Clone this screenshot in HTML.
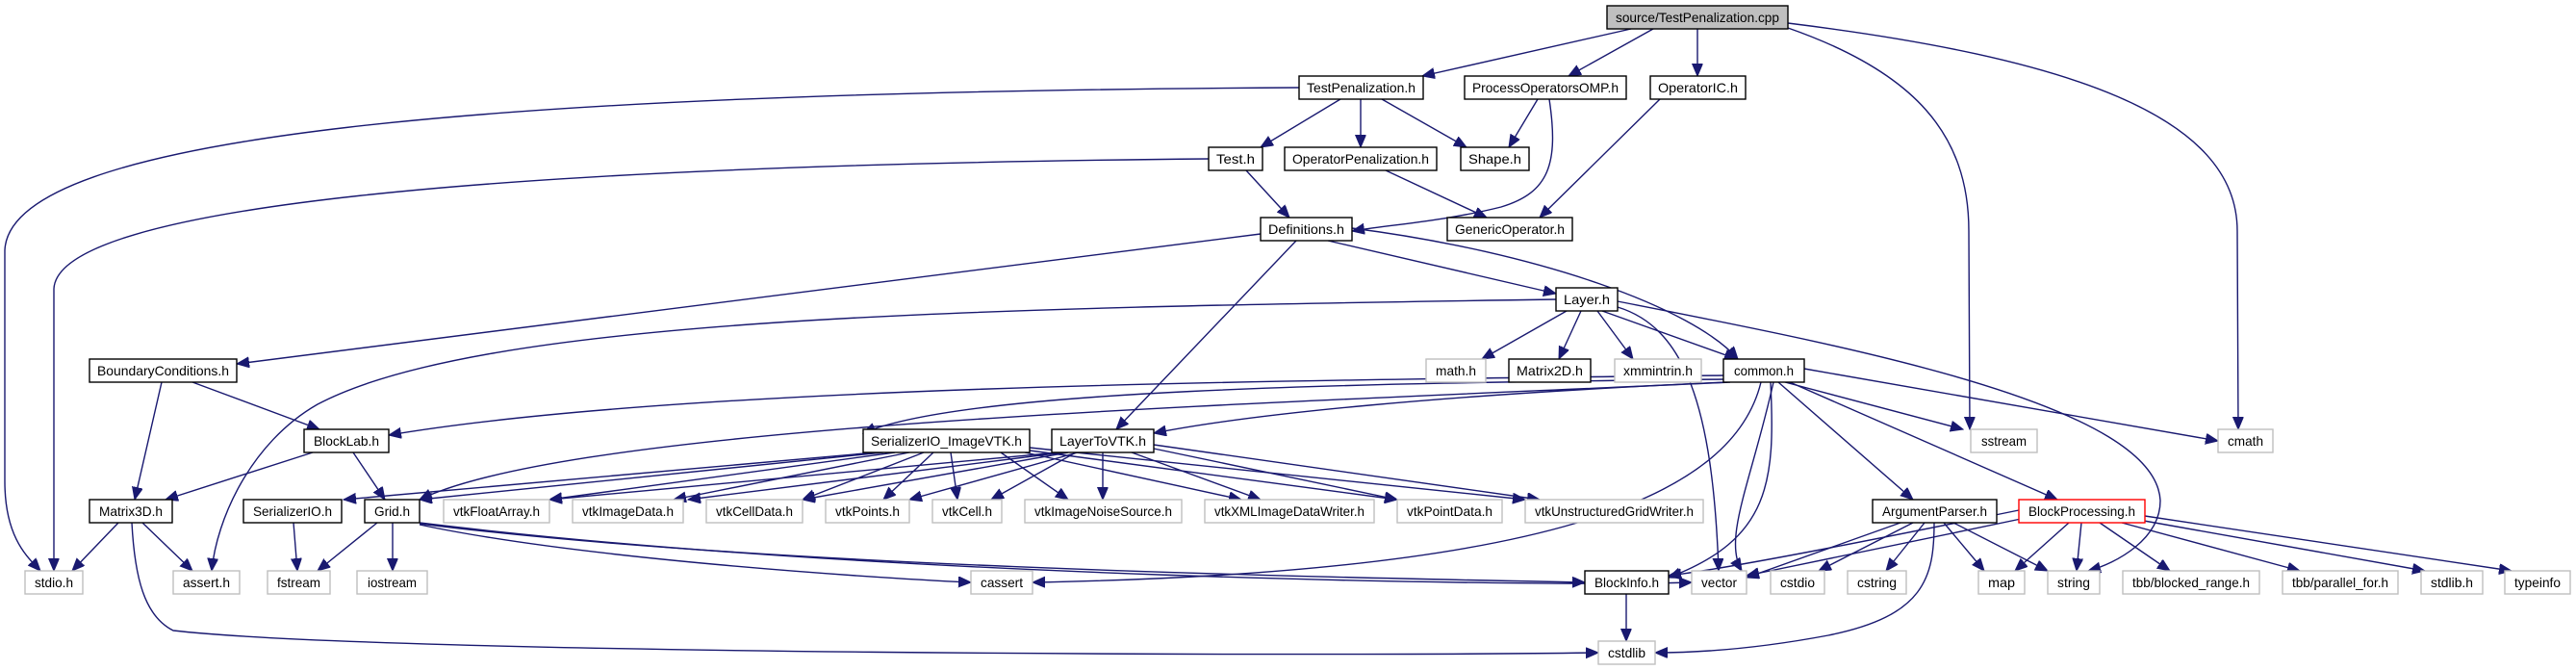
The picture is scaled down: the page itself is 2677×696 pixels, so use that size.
<!DOCTYPE html>
<html><head><meta charset="utf-8"><style>
html,body{margin:0;padding:0;background:#fff}
svg{display:block}
text{font-family:"Liberation Sans",sans-serif;font-size:14px;fill:#000}
.e{fill:none;stroke:#191970;stroke-width:1.4}
.n{fill:#fff;stroke:#000;stroke-width:1.4}
.g{fill:#fff;stroke:#bfbfbf;stroke-width:1.4}
</style></head><body>
<svg width="2677" height="696" viewBox="0 0 2677 696" xmlns="http://www.w3.org/2000/svg">
<defs><marker id="a" markerUnits="userSpaceOnUse" markerWidth="14" markerHeight="12" refX="13" refY="5.5" orient="auto"><path d="M0,0 L13,5.5 L0,11 z" fill="#191970" stroke="#191970"/></marker></defs>
<g class="e" marker-end="url(#a)">
<!-- cpp -->
<path d="M1695,30 L1478,79"/>
<path d="M1718,30 L1630,79"/>
<path d="M1764,30 L1764,79"/>
<path d="M1858,29 C1990,75 2046,140 2046,240 L2047,446"/>
<path d="M1858,24 C2150,60 2325,120 2325,240 L2326,446"/>
<!-- TestPenalization.h -->
<path d="M1350,91 C500,96 10,140 5,260 L5,500 C5,560 30,580 42,593"/>
<path d="M1393,103 L1310,153"/>
<path d="M1414,103 L1414,153"/>
<path d="M1436,103 L1524,153"/>
<!-- POMP -->
<path d="M1598,103 L1568,153"/>
<path d="M1610,103 C1620,170 1610,200 1560,215 C1500,230 1440,234 1405,240"/>
<!-- OIC -->
<path d="M1725,103 L1600,226"/>
<!-- Test.h -->
<path d="M1256,165 C500,172 60,215 56,300 L56,593"/>
<path d="M1295,177 L1340,226"/>
<!-- OperatorPenalization -->
<path d="M1440,177 L1545,226"/>
<!-- Definitions -->
<path d="M1310,243 L246,378"/>
<path d="M1380,250 L1617,305"/>
<path d="M1347,250 L1160,446"/>
<path d="M1405,237 C1600,262 1760,320 1806,373"/>
<!-- Layer -->
<path d="M1617,311 C1000,320 500,330 330,420 C260,460 225,540 220,593"/>
<path d="M1628,323 L1540,373"/>
<path d="M1643,323 L1620,373"/>
<path d="M1660,323 L1697,373"/>
<path d="M1665,323 L1805,373"/>
<path d="M1681,319 C1750,340 1780,420 1786,593"/>
<path d="M1681,313 C1920,360 2240,420 2245,520 C2245,560 2200,585 2170,593"/>
<!-- common -->
<path d="M1791,390 C1300,395 700,402 404,452"/>
<path d="M1791,394 C1400,398 1000,405 897,450"/>
<path d="M1795,397 C1500,410 1300,430 1199,450"/>
<path d="M1798,397 C1300,420 600,440 436,519"/>
<path d="M1855,397 L2040,446"/>
<path d="M1875,383 L2305,458"/>
<path d="M1830,397 C1800,520 1600,595 1073,605"/>
<path d="M1840,397 C1845,500 1840,560 1734,600"/>
<path d="M1843,397 C1820,500 1790,560 1810,593"/>
<path d="M1848,397 L1988,519"/>
<path d="M1860,397 L2138,519"/>
<!-- BoundaryConditions -->
<path d="M168,397 L140,519"/>
<path d="M200,397 L332,446"/>
<!-- BlockLab -->
<path d="M325,470 L172,519"/>
<path d="M367,470 L400,519"/>
<!-- Matrix3D -->
<path d="M123,543 L75,593"/>
<path d="M148,543 L200,593"/>
<path d="M137,543 C140,600 150,640 180,655 C400,680 1400,682 1661,678"/>
<!-- SerializerIO -->
<path d="M305,543 L309,593"/>
<!-- Grid -->
<path d="M392,543 L330,593"/>
<path d="M408,543 L408,593"/>
<path d="M436,545 C600,580 900,600 1009,605"/>
<path d="M436,544 C800,590 1400,600 1647,605"/>
<path d="M436,543 C900,600 1600,610 1758,605"/>
<!-- SIVTK -->
<path d="M910,470 L357,519"/>
<path d="M918,470 L436,519"/>
<path d="M930,470 L571,519"/>
<path d="M945,470 L700,519"/>
<path d="M960,470 L834,519"/>
<path d="M970,470 L918,519"/>
<path d="M988,470 L995,519"/>
<path d="M1040,470 L1110,519"/>
<path d="M1065,470 L1290,519"/>
<path d="M1070,468 L1452,519"/>
<path d="M1070,465 L1585,519"/>
<!-- L2VTK -->
<path d="M1100,470 L571,519"/>
<path d="M1105,470 L715,519"/>
<path d="M1110,470 L834,519"/>
<path d="M1120,470 L945,519"/>
<path d="M1118,470 L1030,519"/>
<path d="M1146,470 L1146,519"/>
<path d="M1176,470 L1310,519"/>
<path d="M1199,466 L1452,519"/>
<path d="M1199,462 L1600,519"/>
<!-- ArgumentParser -->
<path d="M1975,543 L1815,600"/>
<path d="M1988,543 L1890,593"/>
<path d="M2000,543 L1960,593"/>
<path d="M2020,543 L2062,593"/>
<path d="M2030,543 L2128,593"/>
<path d="M2010,543 C2010,600 2000,640 1900,660 C1820,675 1760,678 1720,678"/>
<!-- BlockProcessing -->
<path d="M2098,530 C1950,560 1800,590 1734,598"/>
<path d="M2105,538 C2000,560 1880,585 1815,598"/>
<path d="M2150,543 L2094,593"/>
<path d="M2163,543 L2158,593"/>
<path d="M2182,543 L2255,593"/>
<path d="M2205,543 L2390,593"/>
<path d="M2228,541 L2520,593"/>
<path d="M2229,536 L2610,593"/>
<!-- BlockInfo -->
<path d="M1690,617 L1690,666"/>
</g>
<g>
<rect x="1670" y="6" width="188" height="24" fill="#bfbfbf" stroke="#000" stroke-width="1.4"/><text x="1764" y="23" text-anchor="middle" textLength="170" lengthAdjust="spacingAndGlyphs">source/TestPenalization.cpp</text>
<rect class="n" x="1350" y="79" width="129" height="24"/><text x="1414.5" y="96" text-anchor="middle" textLength="113" lengthAdjust="spacingAndGlyphs">TestPenalization.h</text>
<rect class="n" x="1522" y="79" width="168" height="24"/><text x="1606" y="96" text-anchor="middle" textLength="152" lengthAdjust="spacingAndGlyphs">ProcessOperatorsOMP.h</text>
<rect class="n" x="1715" y="79" width="99" height="24"/><text x="1764.5" y="96" text-anchor="middle" textLength="83" lengthAdjust="spacingAndGlyphs">OperatorIC.h</text>
<rect class="n" x="1256" y="153" width="56" height="24"/><text x="1284" y="170" text-anchor="middle" textLength="40" lengthAdjust="spacingAndGlyphs">Test.h</text>
<rect class="n" x="1335" y="153" width="158" height="24"/><text x="1414" y="170" text-anchor="middle" textLength="142" lengthAdjust="spacingAndGlyphs">OperatorPenalization.h</text>
<rect class="n" x="1518" y="153" width="71" height="24"/><text x="1553.5" y="170" text-anchor="middle" textLength="55" lengthAdjust="spacingAndGlyphs">Shape.h</text>
<rect class="n" x="1310" y="226" width="95" height="24"/><text x="1357.5" y="243" text-anchor="middle" textLength="79" lengthAdjust="spacingAndGlyphs">Definitions.h</text>
<rect class="n" x="1504" y="226" width="130" height="24"/><text x="1569" y="243" text-anchor="middle" textLength="114" lengthAdjust="spacingAndGlyphs">GenericOperator.h</text>
<rect class="n" x="1617" y="299" width="64" height="24"/><text x="1649" y="316" text-anchor="middle" textLength="48" lengthAdjust="spacingAndGlyphs">Layer.h</text>
<rect class="n" x="93" y="373" width="153" height="24"/><text x="169.5" y="390" text-anchor="middle" textLength="137" lengthAdjust="spacingAndGlyphs">BoundaryConditions.h</text>
<rect class="g" x="1482" y="373" width="62" height="24"/><text x="1513" y="390" text-anchor="middle" textLength="42" lengthAdjust="spacingAndGlyphs">math.h</text>
<rect class="n" x="1568" y="373" width="85" height="24"/><text x="1610.5" y="390" text-anchor="middle" textLength="69" lengthAdjust="spacingAndGlyphs">Matrix2D.h</text>
<rect class="g" x="1678" y="373" width="90" height="24"/><text x="1723" y="390" text-anchor="middle" textLength="72" lengthAdjust="spacingAndGlyphs">xmmintrin.h</text>
<rect class="n" x="1791" y="373" width="84" height="24"/><text x="1833" y="390" text-anchor="middle" textLength="62" lengthAdjust="spacingAndGlyphs">common.h</text>
<rect class="n" x="316" y="446" width="88" height="24"/><text x="360" y="463" text-anchor="middle" textLength="68" lengthAdjust="spacingAndGlyphs">BlockLab.h</text>
<rect class="n" x="897" y="446" width="173" height="24"/><text x="983.5" y="463" text-anchor="middle" textLength="157" lengthAdjust="spacingAndGlyphs">SerializerIO_ImageVTK.h</text>
<rect class="n" x="1093" y="446" width="106" height="24"/><text x="1146" y="463" text-anchor="middle" textLength="90" lengthAdjust="spacingAndGlyphs">LayerToVTK.h</text>
<rect class="g" x="2048" y="446" width="69" height="24"/><text x="2082.5" y="463" text-anchor="middle" textLength="47" lengthAdjust="spacingAndGlyphs">sstream</text>
<rect class="g" x="2305" y="446" width="57" height="24"/><text x="2333.5" y="463" text-anchor="middle" textLength="37" lengthAdjust="spacingAndGlyphs">cmath</text>
<rect class="n" x="93" y="519" width="86" height="24"/><text x="136" y="536" text-anchor="middle" textLength="66" lengthAdjust="spacingAndGlyphs">Matrix3D.h</text>
<rect class="n" x="253" y="519" width="102" height="24"/><text x="304" y="536" text-anchor="middle" textLength="82" lengthAdjust="spacingAndGlyphs">SerializerIO.h</text>
<rect class="n" x="379" y="519" width="57" height="24"/><text x="407.5" y="536" text-anchor="middle" textLength="37" lengthAdjust="spacingAndGlyphs">Grid.h</text>
<rect class="g" x="461" y="519" width="110" height="24"/><text x="516" y="536" text-anchor="middle" textLength="90" lengthAdjust="spacingAndGlyphs">vtkFloatArray.h</text>
<rect class="g" x="595" y="519" width="115" height="24"/><text x="652.5" y="536" text-anchor="middle" textLength="95" lengthAdjust="spacingAndGlyphs">vtkImageData.h</text>
<rect class="g" x="734" y="519" width="100" height="24"/><text x="784" y="536" text-anchor="middle" textLength="80" lengthAdjust="spacingAndGlyphs">vtkCellData.h</text>
<rect class="g" x="858" y="519" width="87" height="24"/><text x="901.5" y="536" text-anchor="middle" textLength="67" lengthAdjust="spacingAndGlyphs">vtkPoints.h</text>
<rect class="g" x="969" y="519" width="72" height="24"/><text x="1005" y="536" text-anchor="middle" textLength="52" lengthAdjust="spacingAndGlyphs">vtkCell.h</text>
<rect class="g" x="1065" y="519" width="163" height="24"/><text x="1146.5" y="536" text-anchor="middle" textLength="143" lengthAdjust="spacingAndGlyphs">vtkImageNoiseSource.h</text>
<rect class="g" x="1252" y="519" width="176" height="24"/><text x="1340" y="536" text-anchor="middle" textLength="156" lengthAdjust="spacingAndGlyphs">vtkXMLImageDataWriter.h</text>
<rect class="g" x="1452" y="519" width="109" height="24"/><text x="1506.5" y="536" text-anchor="middle" textLength="89" lengthAdjust="spacingAndGlyphs">vtkPointData.h</text>
<rect class="g" x="1585" y="519" width="185" height="24"/><text x="1677.5" y="536" text-anchor="middle" textLength="165" lengthAdjust="spacingAndGlyphs">vtkUnstructuredGridWriter.h</text>
<rect class="n" x="1946" y="519" width="129" height="24"/><text x="2010.5" y="536" text-anchor="middle" textLength="109" lengthAdjust="spacingAndGlyphs">ArgumentParser.h</text>
<rect x="2098" y="519" width="131" height="24" fill="#fff" stroke="#ff0000" stroke-width="1.4"/><text x="2163.5" y="536" text-anchor="middle" textLength="111" lengthAdjust="spacingAndGlyphs">BlockProcessing.h</text>
<rect class="g" x="26" y="593" width="60" height="24"/><text x="56" y="610" text-anchor="middle" textLength="40" lengthAdjust="spacingAndGlyphs">stdio.h</text>
<rect class="g" x="180" y="593" width="69" height="24"/><text x="214.5" y="610" text-anchor="middle" textLength="49" lengthAdjust="spacingAndGlyphs">assert.h</text>
<rect class="g" x="278" y="593" width="65" height="24"/><text x="310.5" y="610" text-anchor="middle" textLength="45" lengthAdjust="spacingAndGlyphs">fstream</text>
<rect class="g" x="371" y="593" width="73" height="24"/><text x="407.5" y="610" text-anchor="middle" textLength="51" lengthAdjust="spacingAndGlyphs">iostream</text>
<rect class="g" x="1009" y="593" width="64" height="24"/><text x="1041" y="610" text-anchor="middle" textLength="44" lengthAdjust="spacingAndGlyphs">cassert</text>
<rect class="n" x="1647" y="593" width="87" height="24"/><text x="1690.5" y="610" text-anchor="middle" textLength="67" lengthAdjust="spacingAndGlyphs">BlockInfo.h</text>
<rect class="g" x="1758" y="593" width="57" height="24"/><text x="1786.5" y="610" text-anchor="middle" textLength="37" lengthAdjust="spacingAndGlyphs">vector</text>
<rect class="g" x="1840" y="593" width="56" height="24"/><text x="1868" y="610" text-anchor="middle" textLength="36" lengthAdjust="spacingAndGlyphs">cstdio</text>
<rect class="g" x="1920" y="593" width="61" height="24"/><text x="1950.5" y="610" text-anchor="middle" textLength="41" lengthAdjust="spacingAndGlyphs">cstring</text>
<rect class="g" x="2056" y="593" width="48" height="24"/><text x="2080" y="610" text-anchor="middle" textLength="28" lengthAdjust="spacingAndGlyphs">map</text>
<rect class="g" x="2128" y="593" width="54" height="24"/><text x="2155" y="610" text-anchor="middle" textLength="34" lengthAdjust="spacingAndGlyphs">string</text>
<rect class="g" x="2206" y="593" width="142" height="24"/><text x="2277" y="610" text-anchor="middle" textLength="122" lengthAdjust="spacingAndGlyphs">tbb/blocked_range.h</text>
<rect class="g" x="2372" y="593" width="120" height="24"/><text x="2432" y="610" text-anchor="middle" textLength="100" lengthAdjust="spacingAndGlyphs">tbb/parallel_for.h</text>
<rect class="g" x="2516" y="593" width="64" height="24"/><text x="2548" y="610" text-anchor="middle" textLength="44" lengthAdjust="spacingAndGlyphs">stdlib.h</text>
<rect class="g" x="2603" y="593" width="68" height="24"/><text x="2637" y="610" text-anchor="middle" textLength="48" lengthAdjust="spacingAndGlyphs">typeinfo</text>
<rect class="g" x="1661" y="666" width="59" height="24"/><text x="1690.5" y="683" text-anchor="middle" textLength="39" lengthAdjust="spacingAndGlyphs">cstdlib</text>
</g>
</svg>
</body></html>
